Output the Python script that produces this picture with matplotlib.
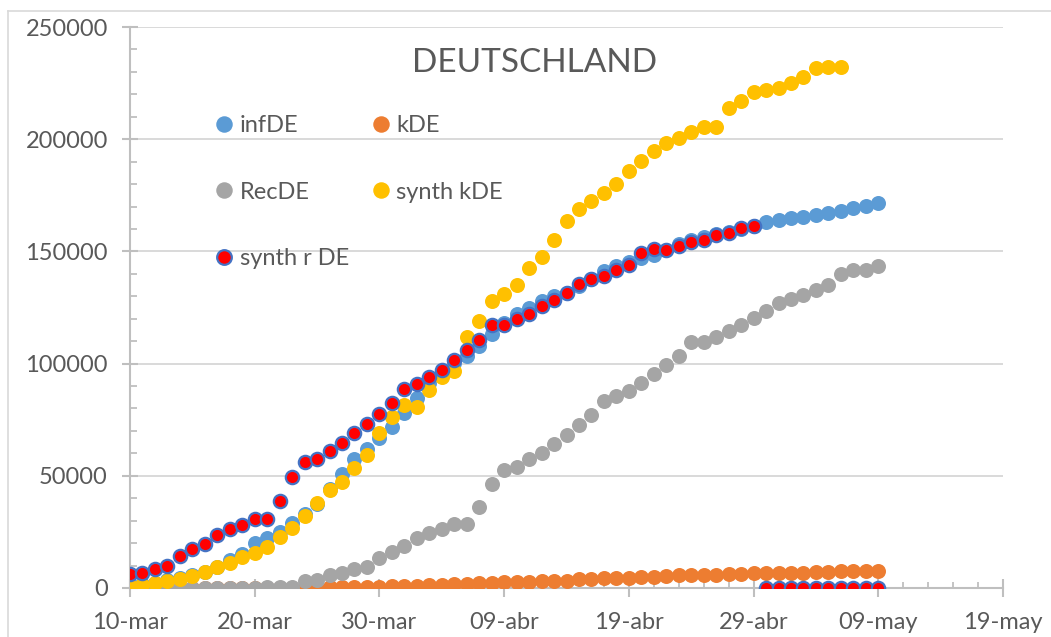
import numpy as np
import matplotlib
matplotlib.use("Agg")
import matplotlib.pyplot as plt
import matplotlib.dates as mdates
from matplotlib.ticker import FixedLocator, MultipleLocator, FuncFormatter
from matplotlib.lines import Line2D

plt.rcParams['font.family'] = ['Lato', 'DejaVu Sans']

# ---------------- data ----------------
start_date = np.datetime64('2020-03-10')
end_date = np.datetime64('2020-05-19')
dates = np.arange(np.datetime64('2020-03-10'), np.datetime64('2020-05-10'), dtype='datetime64[D]')  # 10-mar .. 09-may

infDE = [1457, 1908, 2078, 3675, 4585, 5795, 7272, 9257, 12327, 15320,
         19848, 22213, 24873, 29056, 32986, 37323, 43938, 50871, 57695, 62095,
         66885, 71808, 77872, 84794, 91159, 96092, 100123, 103374, 107663, 113296,
         118181, 122171, 124908, 127854, 130072, 131359, 134753, 137698, 141397, 143342,
         145184, 147065, 148291, 150648, 153129, 154999, 156513, 157770, 158758, 159912,
         161539, 163000, 164000, 164900, 165400, 166000, 167000, 168000, 169500, 170400,
         171400]

kDE = [2, 3, 3, 7, 9, 11, 17, 24, 28, 44,
       67, 84, 94, 123, 157, 206, 267, 342, 433, 533,
       645, 775, 920, 1107, 1275, 1444, 1584, 1810, 2016, 2349,
       2607, 2767, 2736, 3022, 3194, 3294, 3804, 4052, 4352, 4459,
       4586, 4862, 5033, 5279, 5575, 5760, 5877, 5976, 6126, 6314,
       6467, 6623, 6736, 6812, 6866, 6993, 7275, 7392, 7510, 7549,
       7569]

RecDE = [18, 25, 25, 46, 46, 46, 46, 46, 105, 113,
         180, 233, 266, 266, 3243, 3547, 5673, 6658, 8481, 9211,
         13500, 16100, 18700, 22440, 24575, 26400, 28700, 28700, 36081, 46300,
         52407, 53913, 57400, 60300, 64300, 68200, 72600, 77000, 83114, 85400,
         88000, 91500, 95200, 99400, 103300, 109800, 109800, 112000, 114500, 117400,
         120400, 123500, 126900, 129000, 130600, 132700, 135100, 139900, 141700, 141700,
         143300]

synth_kDE = [1025, 1337, 2094, 2986, 4144, 5347, 7263, 9491, 11274, 13680,
             15730, 18403, 22859, 26603, 32218, 37743, 43500, 47366, 53306, 59265,
             69217, 76300, 81545, 80800, 88229, 93872, 96695, 111700, 119120, 128030,
             131000, 135000, 142600, 147640, 155070, 163670, 168880, 172590, 175860, 180020,
             185960, 190270, 194730, 198150, 200390, 203330, 205560, 205270, 213750, 217000,
             220880, 221910, 222650, 225170, 227840, 231560, 232300, 232000]

synth_rDE = [6372, 6684, 8600, 9937, 14259, 17378, 19740, 23483, 26157, 27939,
             30613, 30613, 38767, 49328, 56146, 57348, 61000, 64478, 68934, 73078,
             77534, 82287, 88823, 90902, 94000, 97300, 101600, 106050, 110400, 117190,
             117190, 119730, 122200, 125500, 128500, 131450, 135250, 137800, 139030, 141550,
             143930, 149130, 151000, 150750, 152600, 154100, 155070, 157300, 158330, 160270,
             161300, 0, 0, 0, 0, 0, 0, 0, 0, 0,
             0]

xtick_labels = ["10-mar", "20-mar", "30-mar", "09-abr", "19-abr", "29-abr", "09-may", "19-may"]
ytick_values = [0, 50000, 100000, 150000, 200000, 250000]
title = "DEUTSCHLAND"

# ---------------- styling ----------------
W, H = 1051, 637
fig = plt.figure(figsize=(W / 100, H / 100), dpi=100)
ax = fig.add_axes([130 / W, (H - 588) / H, 873 / W, 561 / H])

txt_col = '#595959'
axis_col = '#BFBFBF'
grid_col = '#D9D9D9'

xd = dates.astype('datetime64[D]').astype(object)
ms = 10.8
ax.plot(xd, infDE, 'o', ms=ms, mew=0, color='#5B9BD5', label='infDE', zorder=3)
ax.plot(xd, kDE, 'o', ms=ms, mew=0, color='#ED7D31', label='kDE', zorder=3)
ax.plot(xd, RecDE, 'o', ms=ms, mew=0, color='#A5A5A5', label='RecDE', zorder=3)
ax.plot(xd[:len(synth_kDE)], synth_kDE, 'o', ms=ms, mew=0, color='#FFC000', label='synth kDE', zorder=3)
ax.plot(xd, synth_rDE, 'o', ms=9.6, mew=1.6, mfc='#FF0000', mec='#4472C4', label='synth r DE', zorder=3)

x0 = mdates.date2num(start_date.astype(object))
x1 = mdates.date2num(end_date.astype(object))
ax.set_xlim(x0, x1)
ax.set_ylim(0, 250000)

ax.xaxis.set_major_locator(FixedLocator([x0 + 10 * k for k in range(len(xtick_labels))]))
ax.xaxis.set_major_formatter(FuncFormatter(lambda v, p: xtick_labels[int(round((v - x0) / 10))]))
ax.xaxis.set_minor_locator(FixedLocator([x0 + 2 * k for k in range(36) if k % 5 != 0]))
ax.yaxis.set_major_locator(FixedLocator(ytick_values))
ax.yaxis.set_major_formatter(FuncFormatter(lambda v, p: f"{int(v)}"))
ax.yaxis.set_minor_locator(MultipleLocator(10000))

ax.grid(axis='y', which='major', color=grid_col, lw=1.4, zorder=0)
ax.set_axisbelow(True)

for s in ['top', 'right']:
    ax.spines[s].set_visible(False)
for s in ['left', 'bottom']:
    ax.spines[s].set_color(axis_col)
    ax.spines[s].set_linewidth(1.5)

ax.tick_params(axis='x', which='major', direction='inout', length=13, width=1.5,
               color=axis_col, labelcolor=txt_col, labelsize=17, pad=11)
ax.tick_params(axis='x', which='minor', direction='in', length=4, width=1.3, color=axis_col)
ax.tick_params(axis='y', which='major', direction='inout', length=11, width=1.5,
               color=axis_col, labelcolor=txt_col, labelsize=17, pad=10.5)
ax.tick_params(axis='y', which='minor', direction='in', length=5, width=1.3, color=axis_col)

# legend: column-first ordering to mimic 2-column row layout
h, l = ax.get_legend_handles_labels()
order = [0, 2, 4, 1, 3]
leg = ax.legend([h[i] for i in order], [l[i] for i in order], ncol=2,
                loc='upper left', bbox_to_anchor=(215 / W, 1 - 115 / H),
                bbox_transform=fig.transFigure, frameon=False, fontsize=17,
                labelcolor=txt_col, borderpad=0, borderaxespad=0,
                handlelength=0.8, handletextpad=0.25, columnspacing=0.95,
                labelspacing=1.93, markerscale=1.1)

fig.text(535 / W, 1 - 72.5 / H, title, ha='center', va='baseline', fontsize=24, color=txt_col)

# outer chart border (light gray)
fig.add_artist(Line2D([8 / W, 8 / W], [0, 1 - 11 / H], color=grid_col, lw=1.2, transform=fig.transFigure))
fig.add_artist(Line2D([8 / W, 1], [1 - 11 / H, 1 - 11 / H], color=grid_col, lw=1.2, transform=fig.transFigure))

fig.savefig('out.png', dpi=100)
